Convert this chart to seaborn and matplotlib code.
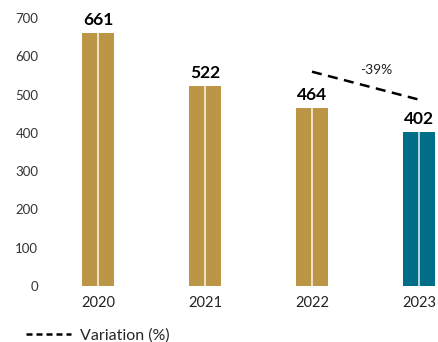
import matplotlib
matplotlib.use('Agg')
import matplotlib.pyplot as plt
import seaborn as sns
from matplotlib.lines import Line2D

# chart data
years = ['2020', '2021', '2022', '2023']
values = [661, 522, 464, 402]
bar_colors = ['#BB9646', '#BB9646', '#BB9646', '#006E87']
variation_label = '-39%'
variation_y = [560, 487]  # dashed trend between 2022 and 2023

sns.set_theme(style='white')
plt.rcParams['font.family'] = ['Lato', 'DejaVu Sans']

fig = plt.figure(figsize=(4.39, 3.42), dpi=100)
ax = fig.add_axes([0.1, 0.1637, 0.9, 0.7833])

sns.barplot(x=years, y=values, hue=years, palette=bar_colors, width=0.3,
            legend=False, ax=ax, linewidth=0, saturation=1)

# split each column with a thin white line, like the original
for p in ax.patches:
    cx = p.get_x() + p.get_width() / 2
    ax.plot([cx, cx], [0, p.get_height()], color='white', lw=1.2, alpha=0.85)

# value labels
for i, v in enumerate(values):
    ax.text(i, v + 14, str(v), ha='center', va='bottom', fontsize=12.5,
            fontweight='bold', color='black')

# variation dashed line
ax.plot([2, 3], variation_y, color='black', lw=1.8, dashes=(4, 2.6))
ax.text(2.6, 565, variation_label, ha='center', va='center', fontsize=10,
        color='#222222')

ax.set_xlim(-0.505, 3.187)
ax.set_ylim(0, 700)
ax.set_yticks(range(0, 701, 100))
sns.despine(ax=ax, left=True, bottom=True)
ax.tick_params(axis='y', labelsize=9.5, colors='#333333', length=0, pad=4)
ax.tick_params(axis='x', labelsize=10.5, colors='#222222', length=0, pad=7)
ax.grid(False)

handle = Line2D([0], [0], color='black', lw=1.8, dashes=(2.4, 1.6))
fig.legend([handle], ['Variation (%)'], loc='center left',
           bbox_to_anchor=(0.045, 0.018), frameon=False, fontsize=11.5,
           handlelength=2.8, handletextpad=0.6, borderaxespad=0)

fig.savefig('out.png', dpi=100)
